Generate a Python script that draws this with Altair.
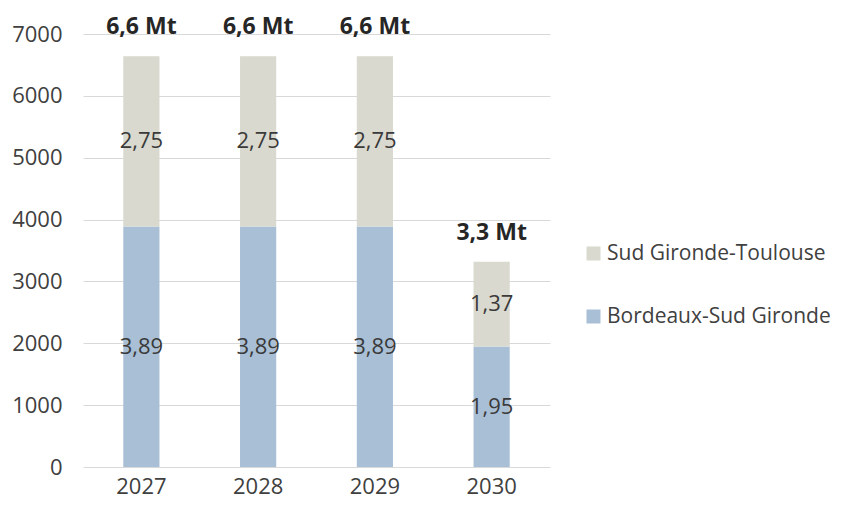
import altair as alt
import pandas as pd

years = ["2027", "2028", "2029", "2030"]
bordeaux = [3890, 3890, 3890, 1950]
toulouse = [2750, 2750, 2750, 1370]
series = ["Sud Gironde-Toulouse", "Bordeaux-Sud Gironde"]
colors = ["#d9d9cf", "#a9bfd6"]

rows = []
for y, b, t in zip(years, bordeaux, toulouse):
    rows.append({"year": y, "series": "Bordeaux-Sud Gironde", "value": b, "ord": 0})
    rows.append({"year": y, "series": "Sud Gironde-Toulouse", "value": t, "ord": 1})
df = pd.DataFrame(rows)

FONT = "Open Sans"

base = alt.Chart(df)

x_enc = alt.X("year:N", sort=years,
              scale=alt.Scale(paddingInner=0.69, paddingOuter=0.345),
              axis=alt.Axis(title=None, labelAngle=0, domain=False, ticks=False,
                            labelFontSize=22, labelColor="#404040", labelFont=FONT,
                            labelPadding=9))

bars = base.mark_bar().encode(
    x=x_enc,
    y=alt.Y("value:Q", stack="zero",
            scale=alt.Scale(domain=[0, 7000]),
            axis=alt.Axis(title=None, values=[0, 1000, 2000, 3000, 4000, 5000, 6000, 7000],
                          format="d", domain=False, ticks=False, grid=True,
                          gridColor="#d9d9d9", gridWidth=1.2,
                          labelFontSize=22, labelColor="#404040", labelFont=FONT,
                          labelPadding=21)),
    color=alt.Color("series:N", scale=alt.Scale(domain=series, range=colors),
                    legend=alt.Legend(title=None, orient="none", legendX=500, legendY=209,
                                      symbolType="square", symbolSize=196,
                                      symbolStrokeWidth=0, labelFontSize=21,
                                      labelFont=FONT, labelColor="#404040",
                                      labelLimit=320, rowPadding=41, labelOffset=3)),
    order=alt.Order("ord:Q"),
)

seg_labels = base.transform_stack(
    stack="value", groupby=["year"], sort=[alt.SortField("ord")], as_=["v0", "v1"]
).transform_calculate(
    mid="(datum.v0 + datum.v1) / 2",
    lab="replace(format(datum.value / 1000, '.2f'), '.', ',')"
).mark_text(font=FONT, fontSize=22, color="#3a3a3a").encode(
    x=alt.X("year:N", sort=years),
    y=alt.Y("mid:Q"),
    text="lab:N",
)

totals = base.transform_aggregate(
    total="sum(value)", groupby=["year"]
).transform_calculate(
    lab="replace(format(datum.total / 1000, '.1f'), '.', ',') + ' Mt'"
).mark_text(font=FONT, fontSize=23, fontWeight="bold", color="#262626", dy=-29).encode(
    x=alt.X("year:N", sort=years),
    y=alt.Y("total:Q"),
    text="lab:N",
)

chart = alt.layer(bars, seg_labels, totals).properties(
    width=467, height=433,
    autosize=alt.AutoSizeParams(type="none"),
    padding={"left": 75, "top": 26, "right": 283, "bottom": 31},
).configure_view(stroke=None)

chart.save("out.html", embed_options={"renderer": "svg", "actions": False})
